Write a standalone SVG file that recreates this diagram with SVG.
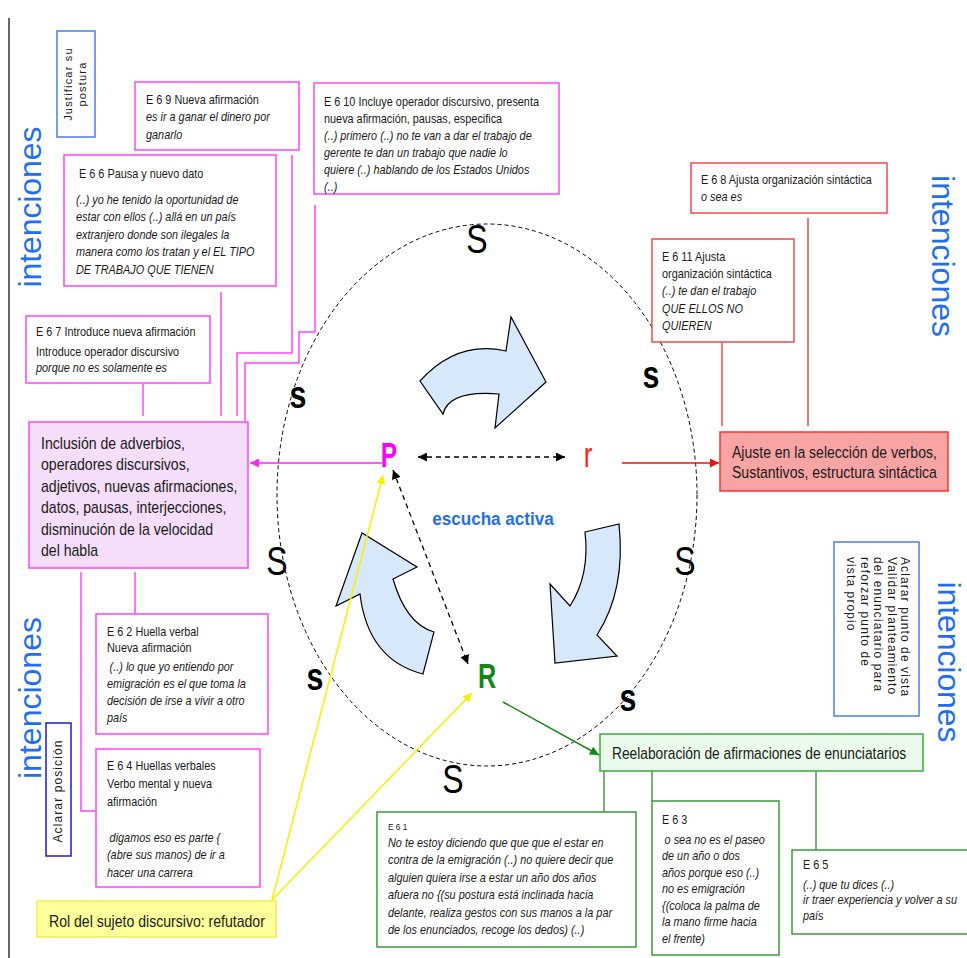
<svg xmlns="http://www.w3.org/2000/svg" width="967" height="958" viewBox="0 0 967 958">
<style>
.t{font-family:"Liberation Sans",Arial,sans-serif;font-size:12.5px;fill:#1a1a1a}
.i{font-style:italic}
.big{font-family:"Liberation Sans",Arial,sans-serif;font-size:16px;fill:#1a1a1a}
.int{font-family:"Liberation Sans",Arial,sans-serif;font-size:32px;fill:#1f6fef}
.rot{font-family:"Liberation Sans",Arial,sans-serif;font-size:12px;fill:#1a1a1a;letter-spacing:1.1px}
.mg{fill:#fff;stroke:#ff44ff;stroke-width:1.5}
.rd{fill:#fff;stroke:#f04848;stroke-width:1.5}
.gr{fill:#fff;stroke:#3a9a3a;stroke-width:1.5}
.bl{fill:#fff;stroke:#4a7cf0;stroke-width:1.5}
.S{font-family:"Liberation Sans",Arial,sans-serif;font-size:41px;fill:#000;text-anchor:middle}
.s{font-family:"Liberation Sans",Arial,sans-serif;font-size:38px;font-weight:bold;fill:#000;text-anchor:middle}
.arr{fill:#d8e8fb;stroke:#000;stroke-width:1.2;stroke-linejoin:miter}
</style>
<defs>
<marker id="mk" viewBox="0 0 10 10" refX="10" refY="5" markerWidth="10" markerHeight="9" markerUnits="userSpaceOnUse" orient="auto-start-reverse"><path d="M0,0 L10,5 L0,10 Z" fill="#000"/></marker>
<marker id="mm" viewBox="0 0 10 10" refX="10" refY="5" markerWidth="10" markerHeight="9" markerUnits="userSpaceOnUse" orient="auto"><path d="M0,0 L10,5 L0,10 Z" fill="#ff22ff"/></marker>
<marker id="mr" viewBox="0 0 10 10" refX="10" refY="5" markerWidth="10" markerHeight="9" markerUnits="userSpaceOnUse" orient="auto"><path d="M0,0 L10,5 L0,10 Z" fill="#ee1111"/></marker>
<marker id="my" viewBox="0 0 10 10" refX="10" refY="5" markerWidth="10" markerHeight="9" markerUnits="userSpaceOnUse" orient="auto"><path d="M0,0 L10,5 L0,10 Z" fill="#f2f200"/></marker>
<marker id="mg" viewBox="0 0 10 10" refX="10" refY="5" markerWidth="10" markerHeight="9" markerUnits="userSpaceOnUse" orient="auto"><path d="M0,0 L10,5 L0,10 Z" fill="#118811"/></marker>
</defs>
<rect width="967" height="958" fill="#fff"/>
<line x1="9" y1="18" x2="9" y2="958" stroke="#000" stroke-width="1.2"/>

<!-- intenciones labels -->
<g id="intenciones-labels">
<text class="int" transform="translate(41 207) rotate(-90)" text-anchor="middle" textLength="161" lengthAdjust="spacing">intenciones</text>
<text class="int" transform="translate(41 698) rotate(-90)" text-anchor="middle" textLength="162" lengthAdjust="spacing">intenciones</text>
<text class="int" transform="translate(932 256) rotate(90)" text-anchor="middle" textLength="162" lengthAdjust="spacing">intenciones</text>
<text class="int" transform="translate(938 662) rotate(90)" text-anchor="middle" textLength="161" lengthAdjust="spacing">intenciones</text>
</g>

<!-- ellipse -->
<g id="ciclo">
<ellipse cx="487" cy="495" rx="210" ry="271" fill="none" stroke="#000" stroke-width="1" stroke-dasharray="4,3"/>
<path class="arr" d="M420,381 Q457,340 506,351 L511,317 L546,382 L495,428 L499,394 Q449,390 443,414 Z"/>
<path class="arr" d="M585,532 L619,524 Q626,590 597,635 L617,656 L555,663 L550,584 L570,606 Q590,575 585,532 Z"/>
<path class="arr" d="M423,674 Q368,660 360,594 L336,606 L362,533 L417,567 L393,579 Q406,624 434,632 Z"/>
<text class="S" transform="translate(477 253) scale(.78 1)">S</text>
<text class="S" transform="translate(277 575) scale(.78 1)">S</text>
<text class="S" transform="translate(685 575) scale(.78 1)">S</text>
<text class="S" transform="translate(453 793) scale(.78 1)">S</text>
<text class="s" transform="translate(298 408) scale(.8 1)">s</text>
<text class="s" transform="translate(651 388) scale(.8 1)">s</text>
<text class="s" transform="translate(315 690) scale(.8 1)">s</text>
<text class="s" transform="translate(628 711) scale(.8 1)">s</text>
<text transform="translate(493 525) scale(.9 1)" text-anchor="middle" style="font-family:'Liberation Sans',Arial,sans-serif;font-size:19px;font-weight:bold;fill:#1f6fef">escucha activa</text>
</g>

<g id="P"><text transform="translate(389 467) scale(.7 1)" text-anchor="middle" style="font-family:'Liberation Sans',Arial,sans-serif;font-size:35px;font-weight:bold;fill:#ff00ff">P</text></g>
<g id="r"><text transform="translate(588 467) scale(.72 1)" text-anchor="middle" style="font-family:'Liberation Sans',Arial,sans-serif;font-size:36px;fill:#ff2020">r</text></g>
<g id="R"><text transform="translate(487 688) scale(.72 1)" text-anchor="middle" style="font-family:'Liberation Sans',Arial,sans-serif;font-size:35px;font-weight:bold;fill:#118811">R</text></g>

<!-- connectors -->
<g id="connectors" fill="none">
<g stroke="#ff44ff" stroke-width="1.5">
<polyline points="221,292 221,416"/>
<polyline points="292,155 292,353 237,353 237,416"/>
<polyline points="315,205 315,332 299,332 299,363 245,363 245,422"/>
<polyline points="143,384 143,416"/>
<polyline points="135,572 135,614"/>
<polyline points="81,572 81,811 96,811"/>
<line x1="382" y1="463" x2="250" y2="463" stroke="#ff22ff" marker-end="url(#mm)"/>
</g>
<g stroke="#f04848" stroke-width="1.5">
<polyline points="808,218 808,426"/>
<polyline points="722,342 722,426"/>
<line x1="622" y1="463" x2="719" y2="463" stroke="#ee1111" marker-end="url(#mr)"/>
</g>
<g stroke="#000" stroke-width="1.3" stroke-dasharray="5,4">
<line x1="418" y1="457" x2="565" y2="457" marker-start="url(#mk)" marker-end="url(#mk)"/>
<line x1="393" y1="470" x2="468" y2="664" marker-start="url(#mk)" marker-end="url(#mk)"/>
</g>
<g stroke="#f2f200" stroke-width="1.5">
<line x1="272" y1="900" x2="383" y2="475" marker-end="url(#my)"/>
<line x1="272" y1="900" x2="472" y2="693" marker-end="url(#my)"/>
</g>
<g stroke="#118811" stroke-width="1.5">
<line x1="503" y1="702" x2="599" y2="755" marker-end="url(#mg)"/>
</g>
<g stroke="#2e8b2e" stroke-width="1.3">
<polyline points="604,771 604,812"/>
<polyline points="652,771 652,801"/>
<polyline points="816,771 816,850"/>
</g>
</g>

<!-- blue intention boxes -->
<g id="justificar">
<rect class="bl" x="57" y="31" width="38" height="106"/>
<text class="rot" transform="translate(72 84) rotate(-90)" text-anchor="middle" style="font-size:11px;letter-spacing:1.2px"><tspan x="0" y="0">Justificar su</tspan><tspan x="0" y="14">postura</tspan></text>
</g>
<g id="aclarar-posicion">
<rect x="46" y="723" width="25" height="133" fill="#fff" stroke="#1a1ad0" stroke-width="1.5"/>
<text class="rot" transform="translate(62 791) rotate(-90)" text-anchor="middle">Aclarar posición</text>
</g>
<g id="aclarar-punto">
<rect class="bl" x="834" y="542" width="85" height="174"/>
<text class="rot" transform="translate(901 557) rotate(90)"><tspan x="0" y="0">Aclarar punto de vista</tspan><tspan x="0" y="13.5">Validar planteamiento</tspan><tspan x="0" y="27">del enunciatario para</tspan><tspan x="0" y="40.5">reforzar punto de</tspan><tspan x="0" y="54">vista propio</tspan></text>
</g>

<!-- magenta boxes -->
<g id="e69">
<rect class="mg" x="135" y="82" width="164" height="68"/>
<text class="t" transform="translate(146 0) scale(.87 1)"><tspan x="0" y="104">E 6 9 Nueva afirmación</tspan><tspan class="i" x="0" y="121.5">es ir a ganar el dinero por</tspan><tspan class="i" x="0" y="139">ganarlo</tspan></text>
</g>
<g id="e66">
<rect class="mg" x="64" y="155" width="212" height="131"/>
<text class="t" transform="translate(79 0) scale(.87 1)"><tspan x="0" y="178">E 6 6 Pausa y nuevo dato</tspan></text>
<text class="t i" transform="translate(76 0) scale(.87 1)"><tspan x="0" y="204">(..) yo he tenido la oportunidad de</tspan><tspan x="0" y="221.5">estar con ellos (..) allá en un país</tspan><tspan x="0" y="239">extranjero donde son ilegales la</tspan><tspan x="0" y="256.5">manera como los tratan y el EL TIPO</tspan><tspan x="0" y="274">DE TRABAJO QUE TIENEN</tspan></text>
</g>
<g id="e610">
<rect class="mg" x="314" y="83" width="245" height="111"/>
<text class="t" transform="translate(324 0) scale(.87 1)"><tspan x="0" y="106">E 6 10 Incluye operador discursivo, presenta</tspan><tspan x="0" y="123">nueva afirmación, pausas, especifica</tspan><tspan class="i" x="0" y="140">(..) primero (..) no te van a dar el trabajo de</tspan><tspan class="i" x="0" y="157">gerente te dan un trabajo que nadie lo</tspan><tspan class="i" x="0" y="174.5">quiere (..) hablando de los Estados Unidos</tspan><tspan class="i" x="0" y="191">(..)</tspan></text>
</g>
<g id="e67">
<rect class="mg" x="26" y="316" width="184" height="67"/>
<text class="t" transform="translate(36 0) scale(.87 1)"><tspan x="0" y="336">E 6 7 Introduce nueva afirmación</tspan><tspan x="0" y="356">Introduce operador discursivo</tspan><tspan class="i" x="0" y="372">porque no es solamente es</tspan></text>
</g>
<g id="inclusion">
<rect x="29" y="422" width="219" height="146" fill="#f4def9" stroke="#ff44ff" stroke-width="1.5"/>
<text class="big" transform="translate(41 0) scale(.88 1)"><tspan x="0" y="449">Inclusión de adverbios,</tspan><tspan x="0" y="470">operadores discursivos,</tspan><tspan x="0" y="492">adjetivos, nuevas afirmaciones,</tspan><tspan x="0" y="513">datos, pausas, interjecciones,</tspan><tspan x="0" y="535">disminución de la velocidad</tspan><tspan x="0" y="556">del habla</tspan></text>
</g>
<g id="e62">
<rect class="mg" x="96" y="614" width="172" height="120"/>
<text class="t" transform="translate(107 0) scale(.87 1)"><tspan x="0" y="636">E 6 2 Huella verbal</tspan><tspan x="0" y="652">Nueva afirmación</tspan><tspan class="i" x="3" y="671">(..)  lo que yo entiendo por</tspan><tspan class="i" x="0" y="688">emigración es el que toma la</tspan><tspan class="i" x="0" y="705">decisión de irse a vivir a  otro</tspan><tspan class="i" x="0" y="722">país</tspan></text>
</g>
<g id="e64">
<rect class="mg" x="96" y="749" width="164" height="138"/>
<text class="t" transform="translate(107 0) scale(.87 1)"><tspan x="0" y="770">E 6 4 Huellas verbales</tspan><tspan x="0" y="788">Verbo mental y nueva</tspan><tspan x="0" y="806">afirmación</tspan><tspan class="i" x="3" y="842">digamos eso es parte {</tspan><tspan class="i" x="0" y="859">(abre sus manos) de ir a</tspan><tspan class="i" x="0" y="877">hacer una carrera</tspan></text>
</g>

<!-- red boxes -->
<g id="e68">
<rect class="rd" x="691" y="163" width="196" height="50"/>
<text class="t" transform="translate(701 0) scale(.87 1)"><tspan x="0" y="184">E 6 8 Ajusta organización sintáctica</tspan><tspan class="i" x="0" y="201">o sea es</tspan></text>
</g>
<g id="e611">
<rect class="rd" x="652" y="239" width="142" height="103"/>
<text class="t" transform="translate(662 0) scale(.87 1)"><tspan x="0" y="261">E 6 11 Ajusta</tspan><tspan x="0" y="278">organización sintáctica</tspan><tspan class="i" x="0" y="295">(..)  te dan el trabajo</tspan><tspan class="i" x="0" y="313">QUE ELLOS NO</tspan><tspan class="i" x="0" y="330">QUIEREN</tspan></text>
</g>
<g id="ajuste">
<rect x="720" y="432" width="228" height="59" fill="#f8a4a4" stroke="#ff3030" stroke-width="1.5"/>
<text class="big" transform="translate(732 0) scale(.85 1)" style="font-size:16.5px"><tspan x="0" y="458">Ajuste en la selección de verbos,</tspan><tspan x="0" y="478">Sustantivos, estructura sintáctica</tspan></text>
</g>

<!-- green boxes -->
<g id="reelaboracion">
<rect x="600" y="734" width="323" height="37" fill="#ebfbeb" stroke="#3aaa3a" stroke-width="1.5"/>
<text class="big" transform="translate(612 0) scale(.86 1)"><tspan x="0" y="759">Reelaboración de afirmaciones de enunciatarios</tspan></text>
</g>
<g id="e61">
<rect class="gr" x="377" y="812" width="259" height="135"/>
<text class="t" transform="translate(388 0) scale(.87 1)" style="font-size:9.5px"><tspan x="0" y="830">E 6 1</tspan></text>
<text class="t i" transform="translate(388 0) scale(.87 1)"><tspan x="0" y="847">No te estoy diciendo que que que el estar en</tspan><tspan x="0" y="864.5">contra de la emigración (..) no quiere decir que</tspan><tspan x="0" y="882">alguien quiera irse a estar un año dos años</tspan><tspan x="0" y="899.5">afuera no {(su postura está inclinada hacia</tspan><tspan x="0" y="917">delante, realiza gestos con sus manos a la par</tspan><tspan x="0" y="934.5">de los enunciados, recoge los dedos) (..)</tspan></text>
</g>
<g id="e63">
<rect class="gr" x="652" y="801" width="127" height="154"/>
<text class="t" transform="translate(662 0) scale(.87 1)"><tspan x="0" y="824">E 6 3</tspan><tspan class="i" x="3" y="844">o sea no es el paseo</tspan><tspan class="i" x="0" y="860">de un año o dos</tspan><tspan class="i" x="0" y="877">años porque eso (..)</tspan><tspan class="i" x="0" y="893">no es emigración</tspan><tspan class="i" x="0" y="910">{(coloca la palma de</tspan><tspan class="i" x="0" y="926">la mano firme hacia</tspan><tspan class="i" x="0" y="943">el frente)</tspan></text>
</g>
<g id="e65">
<rect class="gr" x="792" y="850" width="180" height="84"/>
<text class="t" transform="translate(803 0) scale(.87 1)"><tspan x="0" y="869">E 6 5</tspan><tspan class="i" x="0" y="889">(..) que tu dices (..)</tspan><tspan class="i" x="0" y="904">ir traer experiencia y volver a su</tspan><tspan class="i" x="0" y="920">país</tspan></text>
</g>

<!-- yellow -->
<g id="rol">
<rect x="37" y="901" width="239" height="36" fill="#ffff9c" stroke="#eeee50" stroke-width="1.5"/>
<text class="big" transform="translate(49 0) scale(.88 1)"><tspan x="0" y="927">Rol del sujeto discursivo: refutador</tspan></text>
</g>
</svg>
